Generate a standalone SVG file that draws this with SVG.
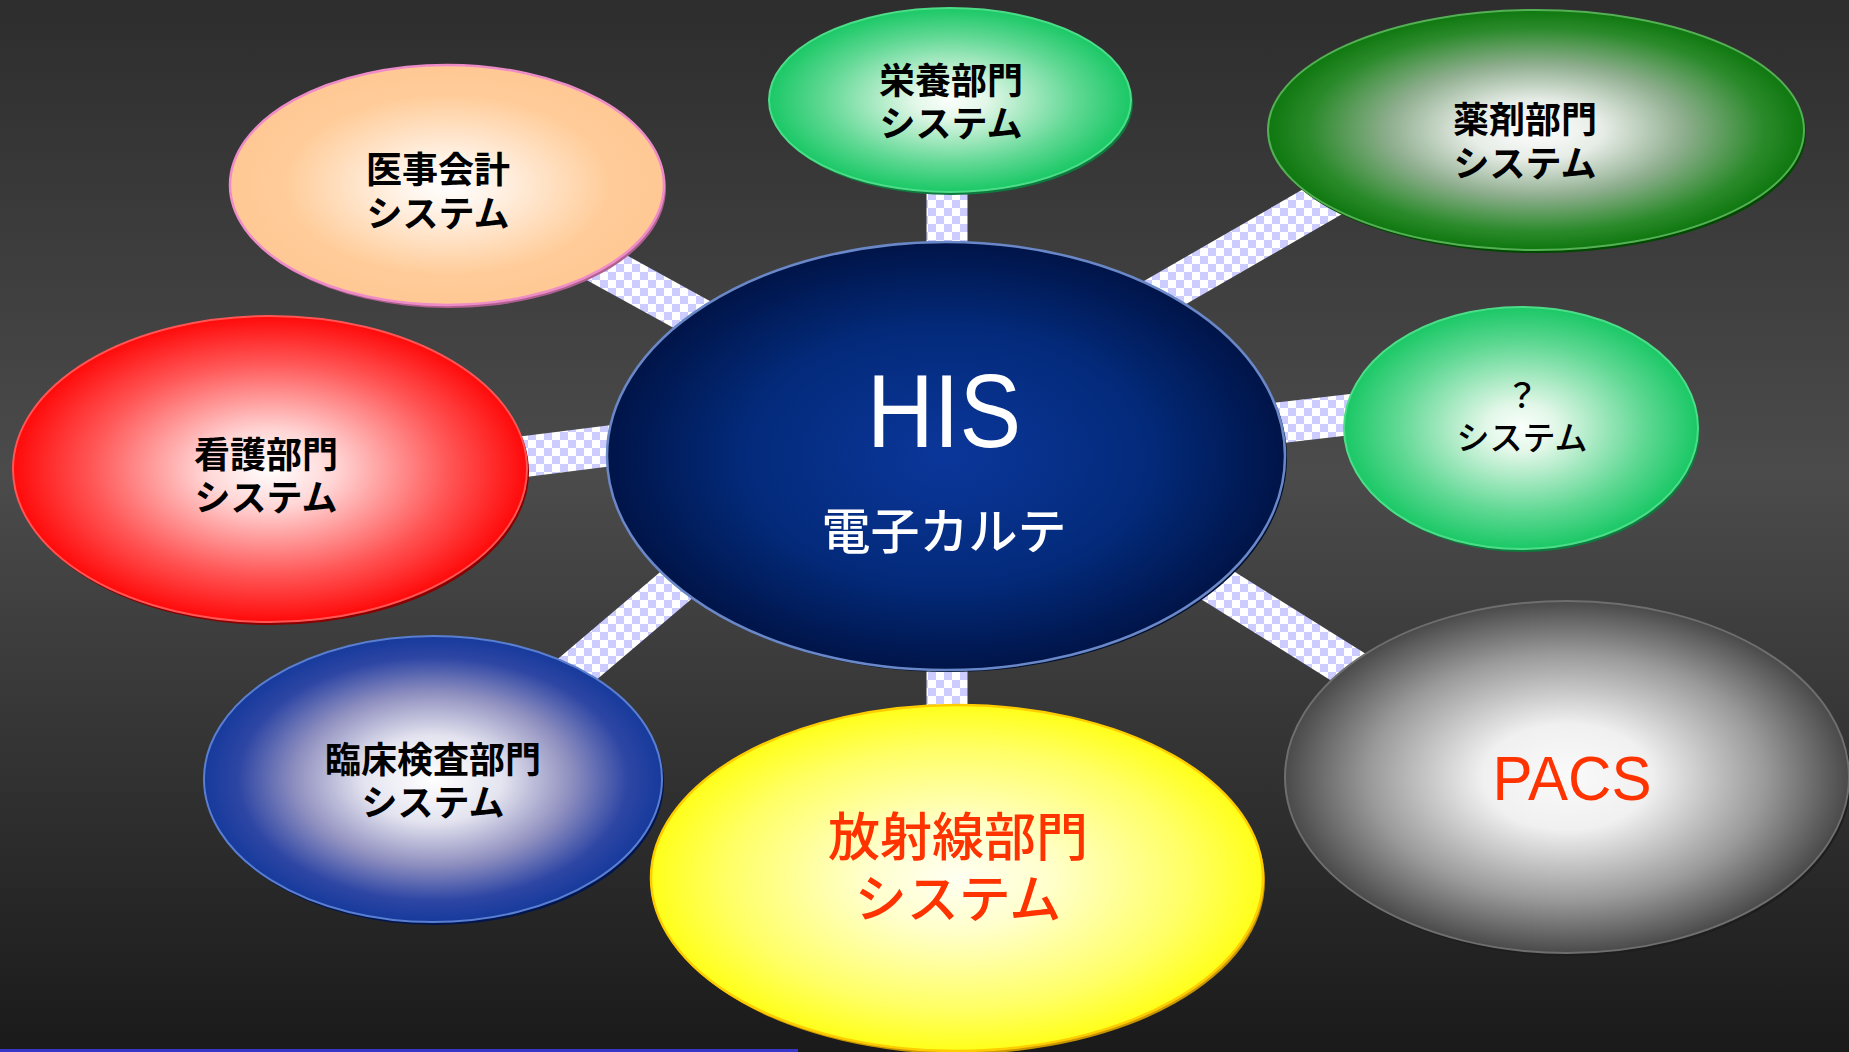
<svg xmlns="http://www.w3.org/2000/svg" width="1849" height="1052" viewBox="0 0 1849 1052">
<defs>
<linearGradient id="bg" x1="0" y1="0" x2="0" y2="1">
<stop offset="0" stop-color="#2d2d2d"/>
<stop offset="0.45" stop-color="#4b4b4b"/>
<stop offset="1" stop-color="#1a1a1a"/>
</linearGradient>
<pattern id="checker" width="16" height="16" patternUnits="userSpaceOnUse">
<rect width="16" height="16" fill="#ffffff"/>
<rect width="8" height="8" fill="#ccccff"/>
<rect x="8" y="8" width="8" height="8" fill="#ccccff"/>
</pattern>
<radialGradient id="gHIS" cx="0.5" cy="0.5" r="0.5">
<stop offset="0" stop-color="#0b379b"/>
<stop offset="0.6" stop-color="#032a7a"/>
<stop offset="1" stop-color="#001448"/>
</radialGradient>
<radialGradient id="gPeach" cx="0.5" cy="0.5" r="0.5">
<stop offset="0" stop-color="#ffffff"/>
<stop offset="0.2" stop-color="#fff4ea"/>
<stop offset="0.75" stop-color="#ffcc99"/>
<stop offset="1" stop-color="#ffc894"/>
</radialGradient>
<radialGradient id="gRed" cx="0.5" cy="0.5" r="0.5">
<stop offset="0" stop-color="#ffffff"/>
<stop offset="0.25" stop-color="#ffd6d6"/>
<stop offset="0.7" stop-color="#ff5555"/>
<stop offset="1" stop-color="#ff0a0a"/>
</radialGradient>
<radialGradient id="gGreen" cx="0.5" cy="0.5" r="0.5">
<stop offset="0" stop-color="#fbfffc"/>
<stop offset="0.2" stop-color="#e2f7e8"/>
<stop offset="0.7" stop-color="#5fd893"/>
<stop offset="1" stop-color="#1ac866"/>
</radialGradient>
<radialGradient id="gDkGreen" cx="0.5" cy="0.5" r="0.5">
<stop offset="0" stop-color="#ffffff"/>
<stop offset="0.25" stop-color="#e6ece6"/>
<stop offset="0.55" stop-color="#8fae8f"/>
<stop offset="0.85" stop-color="#2a8a2a"/>
<stop offset="1" stop-color="#0f780f"/>
</radialGradient>
<radialGradient id="gGrey" cx="0.5" cy="0.5" r="0.5">
<stop offset="0" stop-color="#fafafa"/>
<stop offset="0.3" stop-color="#f0f0f0"/>
<stop offset="0.7" stop-color="#9a9a9a"/>
<stop offset="1" stop-color="#4a4a4a"/>
</radialGradient>
<radialGradient id="gYellow" cx="0.5" cy="0.5" r="0.5">
<stop offset="0" stop-color="#fffff2"/>
<stop offset="0.3" stop-color="#ffffcc"/>
<stop offset="0.75" stop-color="#ffff66"/>
<stop offset="1" stop-color="#ffff1a"/>
</radialGradient>
<radialGradient id="gBlue" cx="0.5" cy="0.5" r="0.5">
<stop offset="0" stop-color="#ffffff"/>
<stop offset="0.3" stop-color="#e4e4f0"/>
<stop offset="0.6" stop-color="#9090c0"/>
<stop offset="0.85" stop-color="#2e46a4"/>
<stop offset="1" stop-color="#163a9c"/>
</radialGradient>
</defs>
<style>
.band{stroke:url(#checker);stroke-width:41;fill:none}
.lbl{font-family:"Liberation Sans","Noto Sans CJK JP",sans-serif;font-weight:bold;font-size:36px;fill:#000;text-anchor:middle}
.lblr{font-family:"Liberation Sans","Noto Sans CJK JP",sans-serif;font-weight:500;text-anchor:middle}
.lat{font-family:"Liberation Sans",Arial,sans-serif;text-anchor:middle}
</style>
<rect width="1849" height="1052" fill="url(#bg)"/>
<rect x="0" y="1049" width="798" height="3" fill="#3636c8"/>

<g id="connectors">
<line class="band" x1="560" y1="242" x2="740" y2="341"/>
<line class="band" x1="947" y1="150" x2="947" y2="280"/>
<line class="band" x1="1100" y1="330" x2="1400" y2="157"/>
<line class="band" x1="1200" y1="432" x2="1450" y2="403"/>
<line class="band" x1="1150" y1="543" x2="1420" y2="712"/>
<line class="band" x1="947" y1="640" x2="947" y2="740"/>
<line class="band" x1="520" y1="718" x2="740" y2="531"/>
<line class="band" x1="450" y1="466" x2="680" y2="437"/>
</g>

<g id="node-his">
<ellipse cx="948" cy="458" rx="339" ry="214" fill="#001030"/>
<ellipse cx="946" cy="456" rx="339" ry="214" fill="url(#gHIS)" stroke="#6a88c8" stroke-width="2.5"/>
<text class="lat" x="944" y="447" font-size="104" fill="#ffffff" textLength="154" lengthAdjust="spacingAndGlyphs">HIS</text>
<text class="lblr" x="944" y="549" font-size="49" fill="#ffffff">電子カルテ</text>
</g>

<g id="node-ijikaikei">
<ellipse cx="449" cy="188" rx="217" ry="120" fill="#b06090"/>
<ellipse cx="447" cy="185" rx="217" ry="120" fill="url(#gPeach)" stroke="#ee8cc8" stroke-width="2.5"/>
<text class="lbl" x="438" y="183">医事会計<tspan x="438" dy="44">システム</tspan></text>
</g>

<g id="node-eiyo">
<ellipse cx="952" cy="103" rx="181" ry="92" fill="#0e7a3e"/>
<ellipse cx="950" cy="100" rx="181" ry="92" fill="url(#gGreen)" stroke="#4ddd88" stroke-width="2"/>
<text class="lbl" x="951" y="94">栄養部門<tspan x="951" dy="43">システム</tspan></text>
</g>

<g id="node-yakuzai">
<ellipse cx="1538" cy="133" rx="268" ry="120" fill="#004a00"/>
<ellipse cx="1536" cy="130" rx="268" ry="120" fill="url(#gDkGreen)" stroke="#55b055" stroke-width="2"/>
<text class="lbl" x="1525" y="133">薬剤部門<tspan x="1525" dy="44">システム</tspan></text>
</g>

<g id="node-kango">
<ellipse cx="272" cy="472" rx="257" ry="153" fill="#8a0000"/>
<ellipse cx="270" cy="469" rx="257" ry="153" fill="url(#gRed)" stroke="#ff5555" stroke-width="2"/>
<text class="lbl" x="266" y="468">看護部門<tspan x="266" dy="43">システム</tspan></text>
</g>

<g id="node-unknown">
<ellipse cx="1523" cy="431" rx="177" ry="121" fill="#0e7a3e"/>
<ellipse cx="1521" cy="428" rx="177" ry="121" fill="url(#gGreen)" stroke="#4ddd88" stroke-width="2"/>
<text class="lblr" x="1522" y="407" font-size="33" fill="#000">？<tspan x="1522" dy="43">システム</tspan></text>
</g>

<g id="node-rinsho">
<ellipse cx="435" cy="782" rx="229" ry="143" fill="#001650"/>
<ellipse cx="433" cy="779" rx="229" ry="143" fill="url(#gBlue)" stroke="#5a7ed0" stroke-width="2"/>
<text class="lbl" x="433" y="773">臨床検査部門<tspan x="433" dy="43">システム</tspan></text>
</g>

<g id="node-hoshasen">
<ellipse cx="959" cy="881" rx="306" ry="173" fill="#c89600"/>
<ellipse cx="957" cy="878" rx="306" ry="173" fill="url(#gYellow)" stroke="#ffcc00" stroke-width="2.5"/>
<text class="lblr" x="958" y="856" font-size="52" fill="#ff3300">放射線部門<tspan x="958" dy="62">システム</tspan></text>
</g>

<g id="node-pacs">
<ellipse cx="1569" cy="780" rx="282" ry="176" fill="#1e1e1e"/>
<ellipse cx="1567" cy="777" rx="282" ry="176" fill="url(#gGrey)" stroke="#6e6e6e" stroke-width="2"/>
<text class="lat" x="1572" y="800" font-size="63" fill="#ff3300" textLength="159" lengthAdjust="spacingAndGlyphs">PACS</text>
</g>
</svg>
